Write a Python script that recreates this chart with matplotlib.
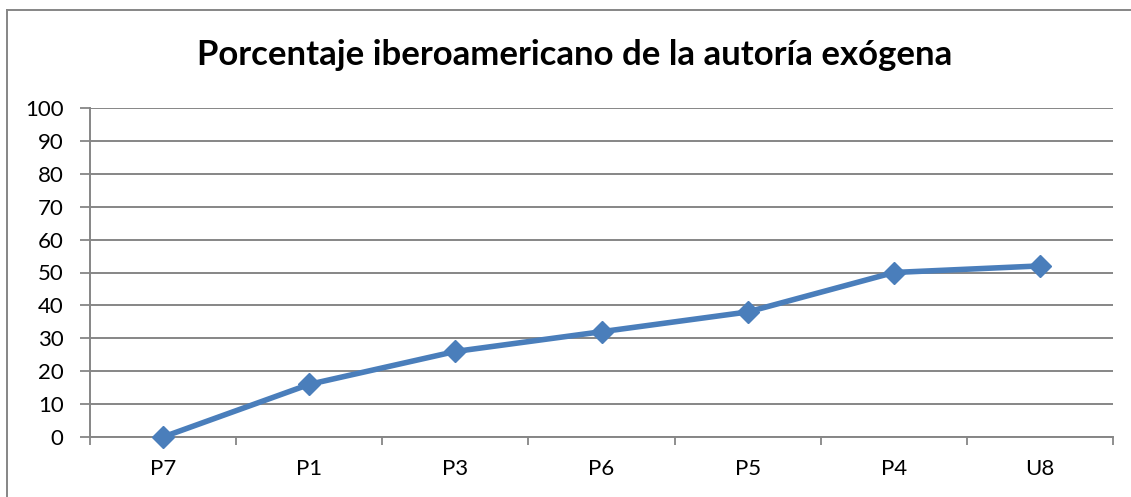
import matplotlib
matplotlib.use("Agg")
import matplotlib.pyplot as plt
from matplotlib.lines import Line2D

categories = ["P7", "P1", "P3", "P6", "P5", "P4", "U8"]
values = [0, 16, 26, 32, 38, 50, 52]
yticks = [0, 10, 20, 30, 40, 50, 60, 70, 80, 90, 100]
title = "Porcentaje iberoamericano de la autoría exógena"

plt.rcParams['font.family'] = ['Lato', 'DejaVu Sans']

W, H = 1131, 497
fig = plt.figure(figsize=(W / 100, H / 100), dpi=100)
ax = fig.add_axes([90 / W, 1 - 437 / H, (1113 - 90) / W, (437 - 108) / H])

grid_c = "#868686"
x = list(range(len(categories)))
ax.plot(x, values, color="#4A7EBB", lw=4, marker="D", markersize=11,
        markerfacecolor="#4A7EBB", markeredgecolor="#4A7EBB", zorder=3,
        solid_capstyle="round", clip_on=False)

ax.set_xlim(-0.5, len(categories) - 0.5)
ax.set_ylim(0, 100)
ax.set_yticks(yticks)
ax.set_yticklabels([str(t) for t in yticks], fontsize=16)
ax.set_xticks(x)
ax.set_xticklabels(categories, fontsize=16)
ax.tick_params(axis="x", length=0, pad=16)
ax.set_xticks([i - 0.5 for i in range(len(categories) + 1)], minor=True)
ax.tick_params(axis="x", which="minor", length=6, width=1.3, color=grid_c, direction="out")
ax.tick_params(axis="y", length=7, width=1.3, color=grid_c, direction="out", pad=12)

ax.grid(axis="y", color=grid_c, lw=1.4)
ax.set_axisbelow(True)
for s in ["top", "right"]:
    ax.spines[s].set_visible(False)
for s in ["left", "bottom"]:
    ax.spines[s].set_color(grid_c)
    ax.spines[s].set_linewidth(1.4)

fig.text(575 / W, 1 - 55 / H, title, ha="center", va="center",
         fontsize=25, fontweight="bold")

# outer chart border (top and left visible)
fig.add_artist(Line2D([7 / W, 7 / W], [0, 1 - 10 / H], transform=fig.transFigure,
                      color=grid_c, lw=1.4))
fig.add_artist(Line2D([7 / W, 1], [1 - 10 / H, 1 - 10 / H], transform=fig.transFigure,
                      color=grid_c, lw=1.4))

fig.savefig("out.png", dpi=100)
